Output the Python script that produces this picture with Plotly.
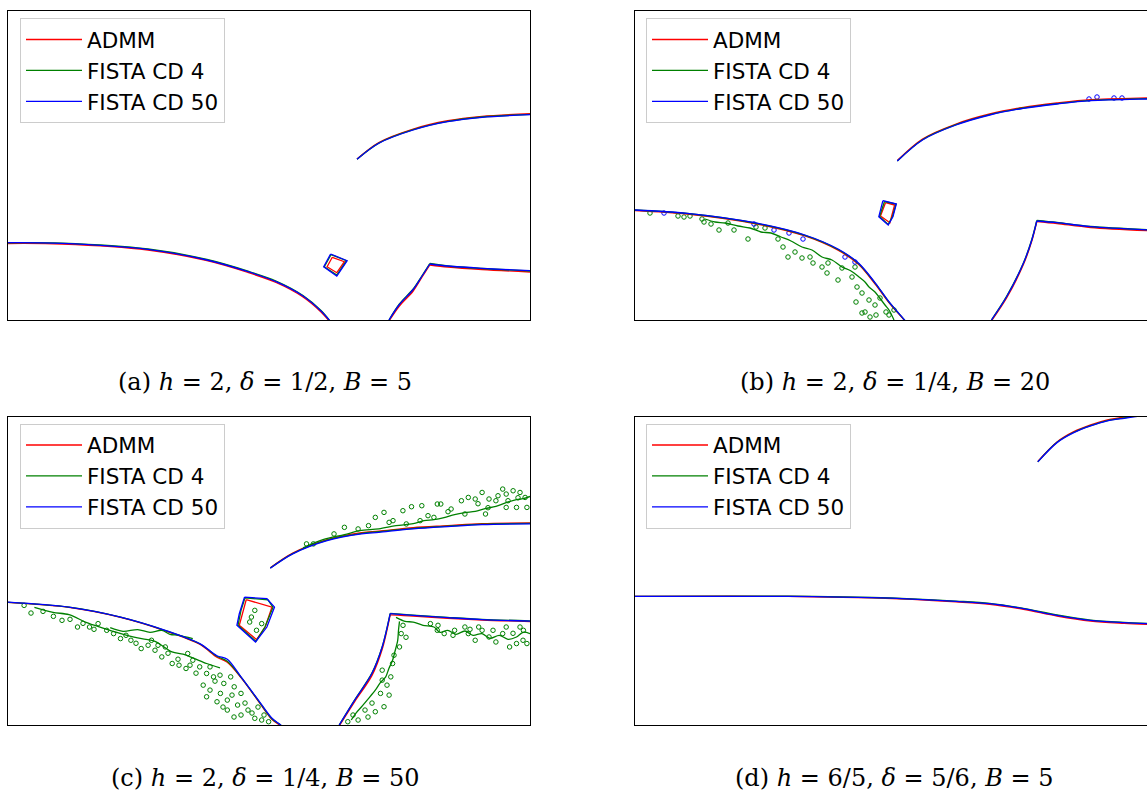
import plotly.graph_objects as go

W, H = 1147, 792

NAMES = ["ADMM", "FISTA CD 4", "FISTA CD 50"]
COLORS = ["#ff0000", "#008000", "#0000ff"]

# ---------------- Panel (a): h=2, delta=1/2, B=5 ----------------
A_ADMM_X = [0, 54, 140, 199, 240, 268, 295, 313, 322, None,
            381, 391.4, 405.2, 413.8, 421.8, None, 421.8, 439.7, 474, 522, None,
            349, 370.8, 405.2, 439.7, 474, 522]
A_ADMM_Y = [76.5, 76, 70, 59.3, 47.5, 37.5, 23, 8, -2, None,
            -1, 14, 29, 42.5, 55, None, 55, 53, 50.5, 48, None,
            161, 177.5, 191, 199.3, 203.7, 206.3]
A_CD4_X = A_ADMM_X
A_CD4_Y = [77.2, 76.8, 71, 60.5, 48.8, 39, 24.5, 9.5, -1, None,
           0, 16, 31, 44, 56.5, None, 56.5, 54, 51.5, 49, None,
           160.7, 176.9, 190.3, 198.6, 203, 205.6]
A_CD50_X = A_ADMM_X
A_CD50_Y = [77.3, 76.7, 70.7, 60, 48.3, 38.3, 24, 9, -1, None,
            0, 15.5, 30.5, 43.5, 56, None, 56, 54, 51.7, 49.3, None,
            160.7, 176.7, 190, 198.3, 202.7, 205.3]
A_SQ_ADMM_X = [324.3, 336.4, 328.8, 319.1, 324.3]
A_SQ_ADMM_Y = [62.7, 58.3, 47.3, 53.3, 62.7]
A_SQ_CD4_X = [323, 338.5, 328.8, 316.3, 323]
A_SQ_CD4_Y = [65.3, 59.3, 45, 53.3, 65.3]
A_SQ_CD50_X = [322.6, 339.1, 328.8, 315.7, 322.6]
A_SQ_CD50_Y = [66, 59.3, 44, 53.3, 66]

# ---------------- Panel (b): h=2, delta=1/4, B=20 ----------------
B_ADMM_X = [0, 52.2, 119.5, 169.9, 203.5, 223.7, 240.5, 253.9, 269, 272, None,
            356.4, 371.6, 388.4, 396.8, 401.8, None, 401.8, 422, 455.6, 522, None,
            262.3, 287.5, 321, 354.7, 388.4, 422, 455.6, 512, 522]
B_ADMM_Y = [109.5, 106, 96.5, 84, 69.5, 55.5, 35.5, 17.5, 0, -4, None,
            -1, 22, 55.5, 79, 98.5, None, 98.5, 96.5, 92.5, 89, None,
            159.5, 181, 196, 206, 212.7, 217, 220.3, 222, 222.2]
B_CD4_X = [0, 52.2, 119.5, 169.9, 203.5, 223.7, 240.5, 253.9, 269, 272, None,
           356.4, 371.6, 388.4, 396.8, 401.8, None, 401.8, 422, 455.6, 522, None,
           262.3, 287.5, 321, 354.7, 388.4, 422, 455.6, 512, 522, None,
           70, 80, 90, 103, 115, 126, 136, 146, 156, 167, 177, 187, 197, 207,
           216, 224, 230, 234, 240, 244, 250, 254, 259]
B_CD4_Y = [110, 106.5, 97, 84.7, 70.3, 56.3, 36.3, 18, 0.5, -3, None,
           0, 23.6, 57, 80.5, 99.5, None, 99.5, 97.5, 93.5, 90, None,
           159, 180.3, 195.3, 205.3, 212, 216.3, 219.6, 221.3, 221.5, None,
           101, 98, 97, 94, 92, 88, 87, 83, 79, 73, 70, 63, 60, 53,
           49, 43, 38, 33, 28, 23, 15, 10, 0]
B_CD50_X = B_ADMM_X
B_CD50_Y = [110, 106.7, 97.3, 85, 70.7, 56.7, 36.7, 18.3, 0.7, -3, None,
            0, 23.3, 56.7, 80, 99, None, 99, 97.3, 93.3, 89.7, None,
            159, 180, 195, 205, 211.7, 216, 219.3, 221, 221.2]
B_SQ_ADMM_X = [250.5, 259.6, 254.9, 245.5, 250.5]
B_SQ_ADMM_Y = [117.3, 115, 97.3, 104, 117.3]
B_SQ_CD4_X = [249.5, 261, 257.5, 253.2, 244.5, 249.5]
B_SQ_CD4_Y = [118.5, 116, 103.5, 95.5, 103.5, 118.5]
B_SQ_CD50_X = [247.9, 261.3, 257.9, 253.2, 243.8, 247.9]
B_SQ_CD50_Y = [119.3, 116, 103.3, 95, 103.3, 119.3]
# small spurious contour loops
B_CD4_DOTS_X = [15, 43, 49, 55, 67, 76, 84, 93, 99, 113, 121, 130, 143, 148, 153,
                160, 167, 175, 178, 187, 192, 203, 207, 217, 222, 227, 230, 235,
                240, 245, 251, 254, 259, 234, 220, 193, 69, 227, 221, 241]
B_CD4_DOTS_Y = [107, 104, 103, 104, 101, 96, 90, 97, 90, 81, 93, 92, 81, 73, 63,
                68, 62, 63, 57, 53, 47, 40, 52, 43, 33, 27, 8, 3,
                15, 22, 8, 5, 10, 20, 53, 57, 98, 7, 18, 5]
B_CD50_DOTS_X = [29, 119, 139, 154, 168, 210, 220, 454, 462, 479, 487]
B_CD50_DOTS_Y = [107, 96, 90, 87, 81, 63, 58, 221, 223, 222, 222]

# ---------------- Panel (c): h=2, delta=1/4, B=50 ----------------
C_ADMM_X = [0, 60.9, 112.5, 157.3, 191.7, 208.9, 219.3, 233, 250.3, 264, 272.6, 275, None,
            331.2, 346.7, 363.9, 374.2, 382.2, None, 382.2, 405.2, 439.7, 474, 522, None,
            262.3, 284.7, 319.1, 353.6, 370.8, 405.2, 439.7, 474, 522]
C_ADMM_Y = [123, 118, 108, 94.5, 81, 68, 63, 47.5, 24, 5.5, -1, -4, None,
            -1, 23.5, 49.5, 76, 110.5, None, 110.5, 109.3, 107, 105.3, 103.8, None,
            157.8, 172.5, 186, 193, 194.5, 198, 200, 202, 202.7]
C_CD4_X = [0, 60.9, 112.5, 157.3, 191.7, 208.9, 219.3, 233, 250.3, 264, 272.6, 275, None,
           331.2, 346.7, 363.9, 374.2, 382.2, None, 382.2, 405.2, 439.7, 474, 522, None,
           262.3, 284.7, 319.1, 353.6, 370.8, 405.2, 439.7, 474, 522, None,
           26.4, 45, 61, 78, 95, 112, 129.7, 147, 164, 175, 185, 198.6, 212, None,
           102.2, 115, 129.7, 142, 153.8, 162, 171, 184.8, None,
           391.5, 390.5, 389.7, 387, 384.6, 381, 377.7, 372, 367.3, 360, 353.6, 348, 343.2, None,
           388, 397, 405.2, 415, 425.9, 432, 439.7, 448, 456.9, 465, 474, 482,
           491.3, 500, 508.5, 515, 522, None,
           295, 315, 336.4, 352, 370.8, 388, 405.2, 416, 425.9, 436, 446.6, 457,
           467.2, 477, 487.9, 498, 508.5, 515, 522]
C_CD4_Y = [123, 118.2, 108.2, 94.8, 81.5, 69, 64, 48, 24.5, 6, 0, -3, None,
           0, 25.3, 52, 78.5, 112, None, 112, 110.3, 108, 106, 104.5, None,
           157.5, 172, 185.5, 192.3, 194, 197.3, 199.5, 201.5, 202.2, None,
           118, 113, 110.7, 103, 97.3, 92, 87.3, 84, 73.3, 71, 67.3, 61.7, 57.3, None,
           97.7, 94, 95.7, 93, 95, 91, 90, 86.7, None,
           104, 95, 85, 74, 65, 57, 48.3, 42, 35, 26, 18.3, 12, 5, None,
           108, 104, 103.3, 100, 98.3, 93, 95, 91, 94.3, 90, 91.7, 87,
           90, 86, 88.3, 93, 91.7, None,
           177.7, 186, 191, 195, 196.7, 200, 202, 205, 206, 208, 211, 213,
           214.3, 217, 219.3, 223, 226, 227, 229.3]
C_CD50_X = C_ADMM_X
C_CD50_Y = [123.3, 118.3, 108.3, 95, 81.7, 69.5, 66, 48.3, 25, 6.7, 0, -3, None,
            0, 25, 51.7, 78.3, 111.7, None, 111.7, 110, 107.7, 105.7, 104.3, None,
            157.3, 171.7, 185, 191.7, 193.3, 196.7, 199, 201, 201.7]
C_SQ_ADMM_X = [238.2, 264, 257.2, 248.5, 231.3, 235.8, 238.2]
C_SQ_ADMM_Y = [125.7, 118.3, 98.3, 85.7, 100, 118.3, 125.7]
C_SQ_CD4_X = [237, 260, 265, 257, 248, 230, 233, 237]
C_SQ_CD4_Y = [127.5, 125.5, 118, 98.5, 84, 100, 115, 127.5]
C_SQ_CD50_X = [236.5, 258.9, 266.5, 258.9, 247.5, 228.9, 231.3, 236.5]
C_SQ_CD50_Y = [128.3, 126.7, 118.3, 98.3, 83.3, 100, 111.7, 128.3]
C_CD4_DOTS_X = [16.1, 23, 45.4, 54, 69.5, 81.5, 90.1, 98.7, 112.5, 122.9, 133.2, 140.1,
                147, 153.8, 164.2, 171, 178, 184.8, 191.7, 198.6, 205.5, 195.2, 202,
                212.4, 219.3, 215.8, 226.2, 233, 229.6, 240, 233, 246.8, 253.7, 260.6,
                219.3, 209, 198.6, 222.7, 202, 179.7, 157.3, 143.5, 105.6,
                35, 62, 75, 86, 118, 128, 150, 160, 170, 182, 188, 207, 212, 224, 237,
                244, 250, 256, 226, 215,
                393.2, 391.5, 384.6, 382.8, 374.2, 372.5, 376, 381.1, 367.3, 357, 350.1,
                339.8, 374.2, 395, 398, 386, 379, 364, 360, 345,
                422.4, 436.2, 446.6, 460.3, 467.2, 474.1, 481, 487.9, 494.7, 501.6, 508.5,
                515.4, 518.9, 456.9, 429.3, 470.7, 498.2, 512, 430, 445, 462, 485, 505, 515,
                326, 336.4, 350.1, 360.5, 367.3, 376, 381.1, 394.9, 403.5, 413.8, 429.3,
                432.8, 443.1, 453.4, 460.3, 467.2, 474.1, 481, 487.9, 494.7, 498.2, 505.1,
                512, 517.1, 518.9, 508.5, 498.2, 477.5, 456.9, 425.9, 412.1, 398.3, 298.5,
                305.4, 440, 470, 490, 510, 500, 480, 420, 385,
                246.8, 243.4, 248.5, 241.7, 253.7]
C_CD4_DOTS_Y = [120, 112.3, 109, 105, 98.3, 98.3, 101.7, 95, 86.7, 85, 76.7, 80,
                75, 68.3, 61.7, 60, 56.7, 65, 58.3, 51.7, 48.3, 40, 35,
                31.7, 25, 41.7, 38.3, 31.7, 20, 15, 10, 6.7, 5, 3.3,
                15, 23.3, 28.3, 48.3, 58.3, 71.7, 78.3, 85, 91.7,
                114, 106, 102, 96, 90, 82, 80, 72, 66, 60, 52, 44, 50, 30, 22,
                12, 18, 10, 8, 18,
                91.7, 78.3, 61.7, 48.3, 45, 31.7, 18.3, 30, 13.3, 15, 5,
                3.3, 55, 100, 88, 70, 40, 22, 8, 10,
                101.7, 91.7, 95, 91.7, 85, 95, 88.3, 83.3, 91.7, 78.3, 81.7,
                95, 81.7, 98.3, 95, 98.3, 98.3, 98.3, 100, 90, 96, 95, 92, 85,
                191.7, 198.3, 196.7, 200, 208.3, 213.3, 203.3, 215, 219, 220, 221.7,
                221.7, 216.7, 225, 228.3, 226.7, 233.3, 226.7, 225, 236.7, 231.7, 235,
                233.3, 228.3, 218.3, 218.3, 218.3, 211.7, 211.7, 208.3, 205, 201.7, 181.7,
                181.7, 214, 222, 230, 228, 225, 218, 210, 205,
                115, 108.3, 95, 103.3, 101.7]

# ---------------- Panel (d): h=6/5, delta=5/6, B=5 ----------------
D_ADMM_X = [0, 153, 237, 277.4, 321, 354.7, 388.4, 422, 455.6, 489.2, 522, None,
            402.8, 422, 438.8, 455.6, 472.4, 489.2, 505, 520]
D_ADMM_Y = [129, 129, 127.5, 126, 123.5, 121, 116, 109.3, 104.3, 102, 100.5, None,
            264.5, 284, 294.3, 301, 306, 309, 311, 313]
D_CD4_X = D_ADMM_X
D_CD4_Y = [129, 129.2, 127.9, 126.5, 124.3, 122, 117, 110.4, 105.3, 103, 101.7, None,
           264, 283.6, 293.7, 300.4, 305.4, 308.2, 310.5, 312.5]
D_CD50_X = D_ADMM_X
D_CD50_Y = [129, 129, 127.7, 126.3, 124, 121.7, 116.7, 110, 105, 102.7, 101.3, None,
            264, 283.3, 293.3, 300, 305, 307.7, 310, 312]

CAPTIONS = [
    "(a) <i>h</i> = 2, <i>δ</i> = 1/2, <i>B</i> = 5",
    "(b) <i>h</i> = 2, <i>δ</i> = 1/4, <i>B</i> = 20",
    "(c) <i>h</i> = 2, <i>δ</i> = 1/4, <i>B</i> = 50",
    "(d) <i>h</i> = 6/5, <i>δ</i> = 5/6, <i>B</i> = 5",
]

# ---------------- layout geometry ----------------
XL = [8 / W, 530 / W]
XR = [635 / W, 1.0]
YT = [1 - 320 / H, 1 - 11 / H]
YB = [1 - 725 / H, 1 - 417 / H]

panels = [
    dict(ax="", xd=XL, yd=YT, xr=[0, 522], full=True, leg="legend",
         lines=[(A_ADMM_X, A_ADMM_Y), (A_CD4_X, A_CD4_Y), (A_CD50_X, A_CD50_Y)],
         sq=[(A_SQ_ADMM_X, A_SQ_ADMM_Y), (A_SQ_CD4_X, A_SQ_CD4_Y), (A_SQ_CD50_X, A_SQ_CD50_Y)],
         dots=[], legpos=(20 / W, 1 - 18 / H), cap=(265 / W, 1 - 382 / H)),
    dict(ax="2", xd=XR, yd=YT, xr=[0, 512], full=False, leg="legend2",
         lines=[(B_ADMM_X, B_ADMM_Y), (B_CD4_X, B_CD4_Y), (B_CD50_X, B_CD50_Y)],
         sq=[(B_SQ_ADMM_X, B_SQ_ADMM_Y), (B_SQ_CD4_X, B_SQ_CD4_Y), (B_SQ_CD50_X, B_SQ_CD50_Y)],
         dots=[(B_CD4_DOTS_X, B_CD4_DOTS_Y, COLORS[1]), (B_CD50_DOTS_X, B_CD50_DOTS_Y, COLORS[2])],
         legpos=(646 / W, 1 - 18 / H), cap=(895 / W, 1 - 382 / H)),
    dict(ax="3", xd=XL, yd=YB, xr=[0, 522], full=True, leg="legend3",
         lines=[(C_ADMM_X, C_ADMM_Y), (C_CD4_X, C_CD4_Y), (C_CD50_X, C_CD50_Y)],
         sq=[(C_SQ_ADMM_X, C_SQ_ADMM_Y), (C_SQ_CD4_X, C_SQ_CD4_Y), (C_SQ_CD50_X, C_SQ_CD50_Y)],
         dots=[(C_CD4_DOTS_X, C_CD4_DOTS_Y, COLORS[1])],
         legpos=(20 / W, 1 - 423.5 / H), cap=(265 / W, 1 - 778 / H)),
    dict(ax="4", xd=XR, yd=YB, xr=[0, 512], full=False, leg="legend4",
         lines=[(D_ADMM_X, D_ADMM_Y), (D_CD4_X, D_CD4_Y), (D_CD50_X, D_CD50_Y)],
         sq=[],
         dots=[], legpos=(646 / W, 1 - 423.5 / H), cap=(894 / W, 1 - 778 / H)),
]

fig = go.Figure()
layout = dict(width=W, height=H, autosize=False, margin=dict(l=0, r=0, t=0, b=0),
              plot_bgcolor="white", paper_bgcolor="white", annotations=[])

for i, p in enumerate(panels):
    xa, ya = "x" + p["ax"], "y" + p["ax"]
    for (xs, ys, col) in p["dots"]:
        fig.add_trace(go.Scatter(x=xs, y=ys, xaxis=xa, yaxis=ya, mode="markers",
                                 marker=dict(symbol="circle-open", size=4.5, color=col,
                                             line=dict(width=1, color=col)),
                                 showlegend=False, hoverinfo="skip", legend=p["leg"]))
    for k in range(3):
        xs, ys = p["lines"][k]
        fig.add_trace(go.Scatter(x=xs, y=ys, xaxis=xa, yaxis=ya, mode="lines",
                                 line=dict(color=COLORS[k], width=1.3, shape="spline",
                                           smoothing=0.9),
                                 name=NAMES[k], legend=p["leg"],
                                 legendgroup=f"{p['leg']}_{k}", showlegend=True))
        if p["sq"]:
            sx, sy = p["sq"][k]
            fig.add_trace(go.Scatter(x=sx, y=sy, xaxis=xa, yaxis=ya, mode="lines",
                                     line=dict(color=COLORS[k], width=1.3),
                                     name=NAMES[k], legend=p["leg"],
                                     legendgroup=f"{p['leg']}_{k}", showlegend=False))
    layout["xaxis" + p["ax"]] = dict(domain=p["xd"], range=p["xr"], showgrid=False,
                                     zeroline=False, showticklabels=False, ticks="",
                                     showline=True, mirror=True, linecolor="black",
                                     linewidth=1.2, anchor=ya, fixedrange=True)
    layout["yaxis" + p["ax"]] = dict(domain=p["yd"], range=[0, 309], showgrid=False,
                                     zeroline=False, showticklabels=False, ticks="",
                                     showline=True, mirror=p["full"], linecolor="black",
                                     linewidth=1.2, anchor=xa, fixedrange=True)
    layout[p["leg"]] = dict(x=p["legpos"][0], y=p["legpos"][1], xanchor="left",
                            yanchor="top", bgcolor="rgba(255,255,255,0.8)",
                            bordercolor="#cccccc", borderwidth=1, itemwidth=56,
                            font=dict(family="DejaVu Sans", size=21.5, color="black"),
                            tracegroupgap=10, traceorder="normal")
    layout["annotations"].append(dict(text=CAPTIONS[i], x=p["cap"][0], y=p["cap"][1],
                                      xref="paper", yref="paper", xanchor="center",
                                      yanchor="middle", showarrow=False,
                                      font=dict(family="DejaVu Serif", size=24,
                                                color="black")))

fig.update_layout(**layout)
fig.write_html("out.html")
